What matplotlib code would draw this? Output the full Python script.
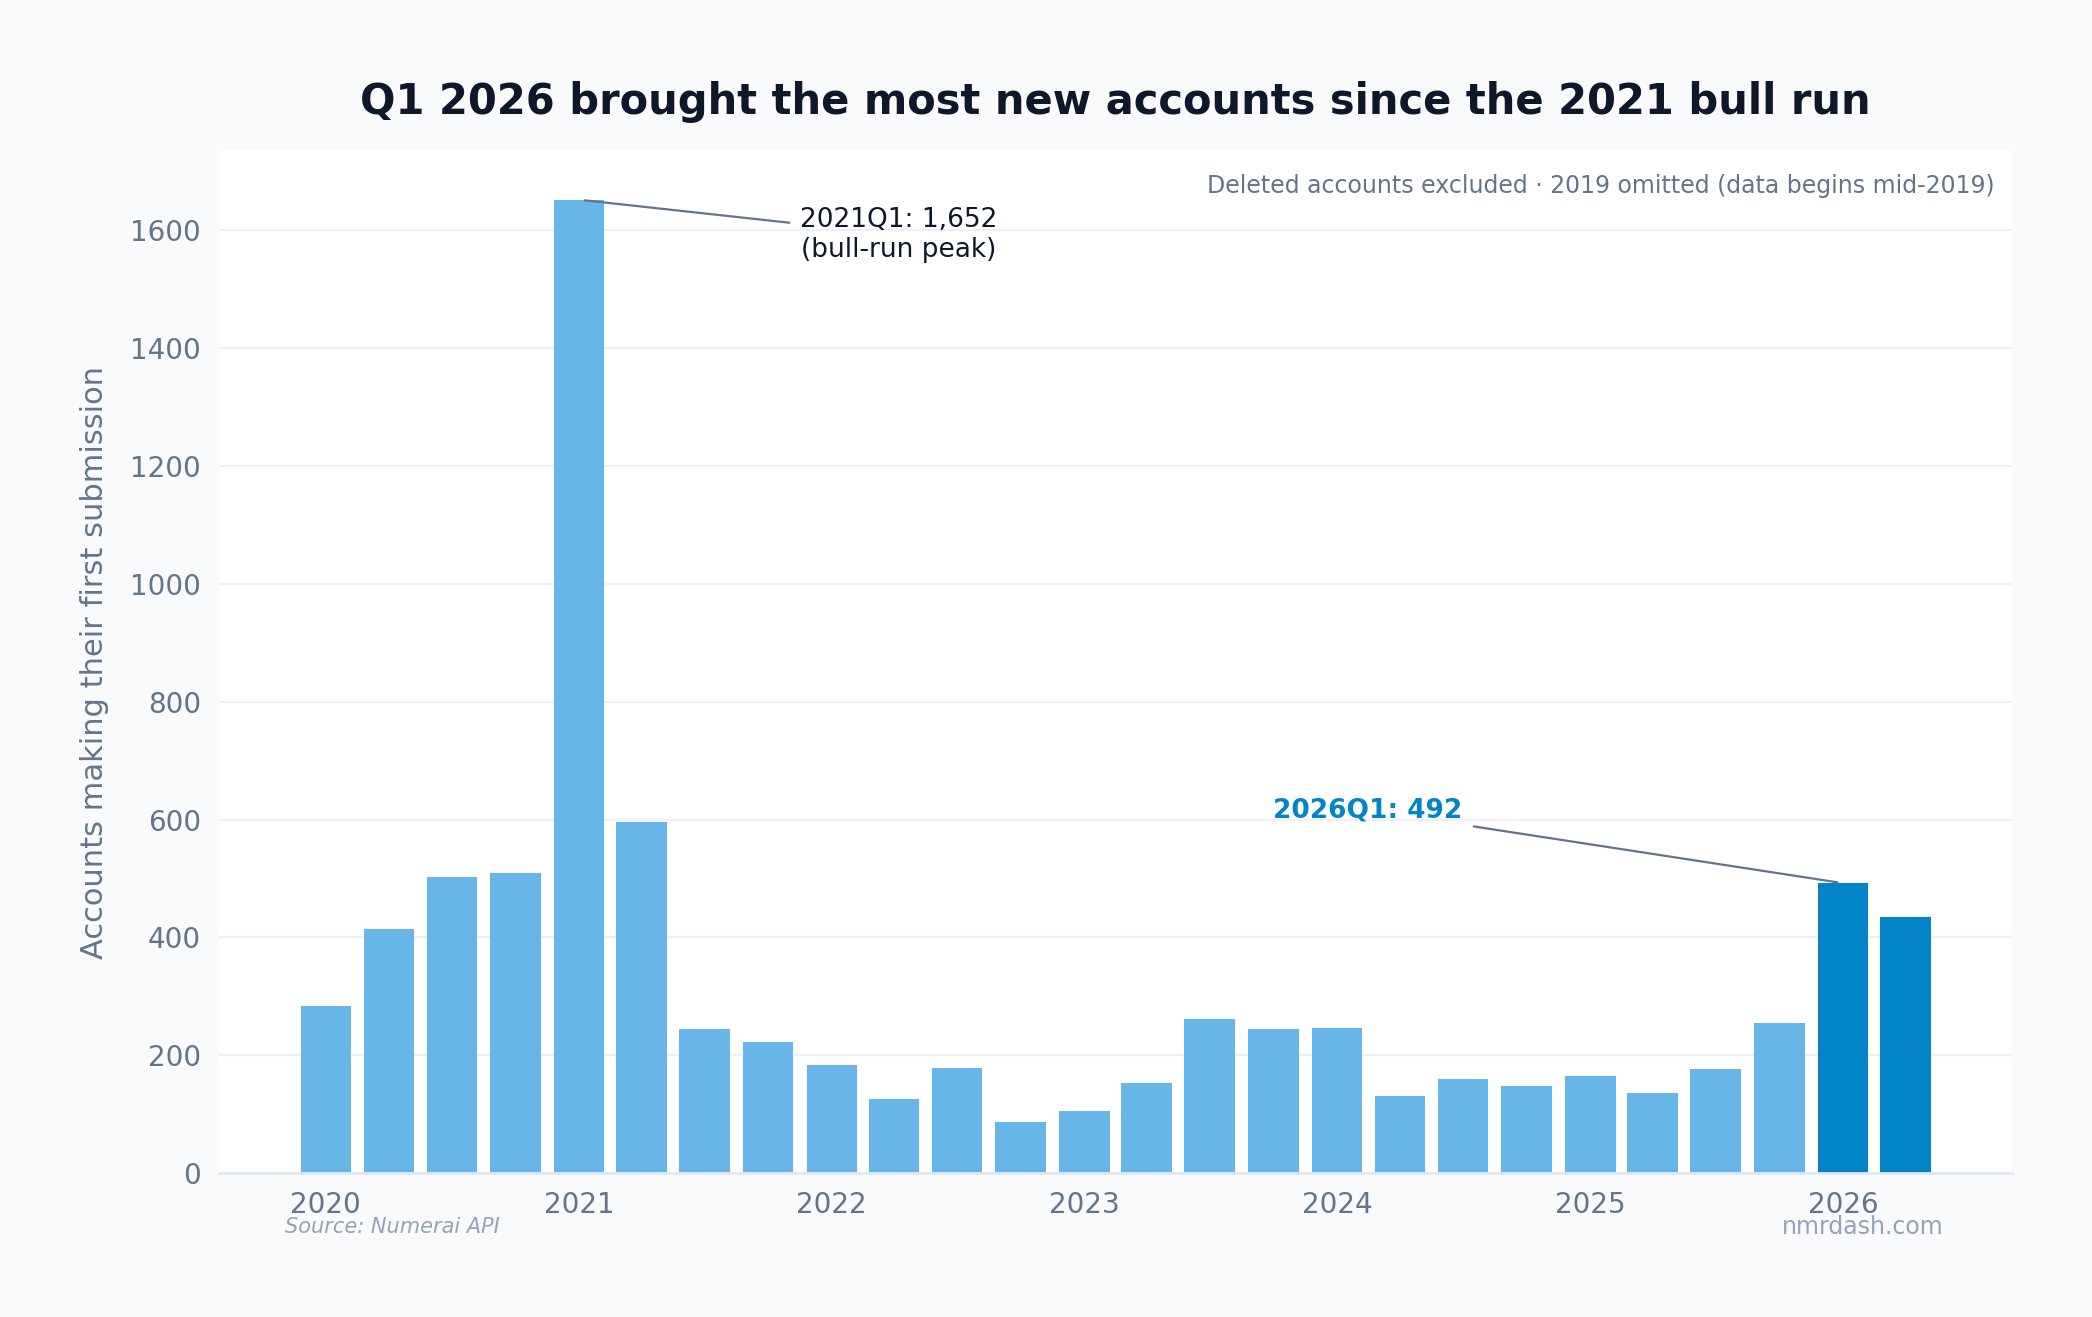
import numpy as np
import pandas as pd
import matplotlib
matplotlib.use("Agg")
import matplotlib.pyplot as plt
import matplotlib.dates as mdates

# quarterly counts of accounts making their first submission
quarters = pd.period_range("2020Q1", "2026Q2", freq="Q")
new_accounts = [283, 415, 502, 509, 1652, 595, 244, 222, 184, 125, 179, 86,
                106, 152, 261, 245, 246, 131, 160, 148, 165, 136, 177, 255,
                492, 435]
highlight = ["2026Q1", "2026Q2"]

peak_label = "2021Q1: 1,652\n(bull-run peak)"
recent_label = "2026Q1: 492"

BG = "#f8fafc"
LIGHT = "#68b6e8"
DARK = "#0284c7"
MUTED = "#64748b"
INK = "#0f172a"

dates = quarters.to_timestamp()
colors = [DARK if str(q) in highlight else LIGHT for q in quarters]

fig = plt.figure(figsize=(10.46, 6.585), dpi=200, facecolor=BG)
ax = fig.add_axes([0.1047, 0.1093, 0.8571, 0.776])
ax.set_facecolor("white")

ax.bar(dates, new_accounts, width=73, color=colors, zorder=2)
ax.set_ylim(0, max(new_accounts) * 1.05)

ax.xaxis.set_major_locator(mdates.YearLocator())
ax.xaxis.set_major_formatter(mdates.DateFormatter("%Y"))
ax.tick_params(axis="both", length=0, pad=6.5, labelsize=10, labelcolor=MUTED)

ax.grid(axis="y", color="#eef0f3", linewidth=0.8, zorder=0)
ax.grid(axis="x", visible=False)
for side in ["top", "right", "left"]:
    ax.spines[side].set_visible(False)
ax.spines["bottom"].set_color("#e2e8f0")
ax.spines["bottom"].set_linewidth(1.0)

ax.set_ylabel("Accounts making their first submission", fontsize=11,
              color=MUTED, labelpad=7.5)
ax.set_title("Q1 2026 brought the most new accounts since the 2021 bull run",
             fontsize=15, fontweight="bold", color=INK, pad=13.5)

ax.text(0.99, 0.978, "Deleted accounts excluded \u00b7 2019 omitted (data begins mid-2019)",
        transform=ax.transAxes, ha="right", va="top", fontsize=8.5, color=MUTED)

i_peak = int(np.argmax(new_accounts))
ax.annotate(peak_label, xy=(dates[i_peak], new_accounts[i_peak]),
            xytext=(320, -35), textcoords="offset pixels",
            ha="center", va="center", fontsize=9.5, color=INK,
            arrowprops=dict(arrowstyle="-", color=MUTED, linewidth=0.8))

i_rec = list(map(str, quarters)).index("2026Q1")
ax.annotate(recent_label, xy=(dates[i_rec], new_accounts[i_rec]),
            xytext=(-475, 73), textcoords="offset pixels",
            ha="center", va="center", fontsize=9.5, color=DARK, fontweight="bold",
            arrowprops=dict(arrowstyle="-", color=MUTED, linewidth=0.8))

fig.text(0.136, 0.068, "Source: Numerai API", fontsize=7.5, style="italic",
         color="#94a3b8", ha="left", va="center")
fig.text(0.929, 0.068, "nmrdash.com", fontsize=8.5, color="#94a3b8",
         ha="right", va="center")

fig.savefig("out.png", dpi=200, facecolor=BG)
